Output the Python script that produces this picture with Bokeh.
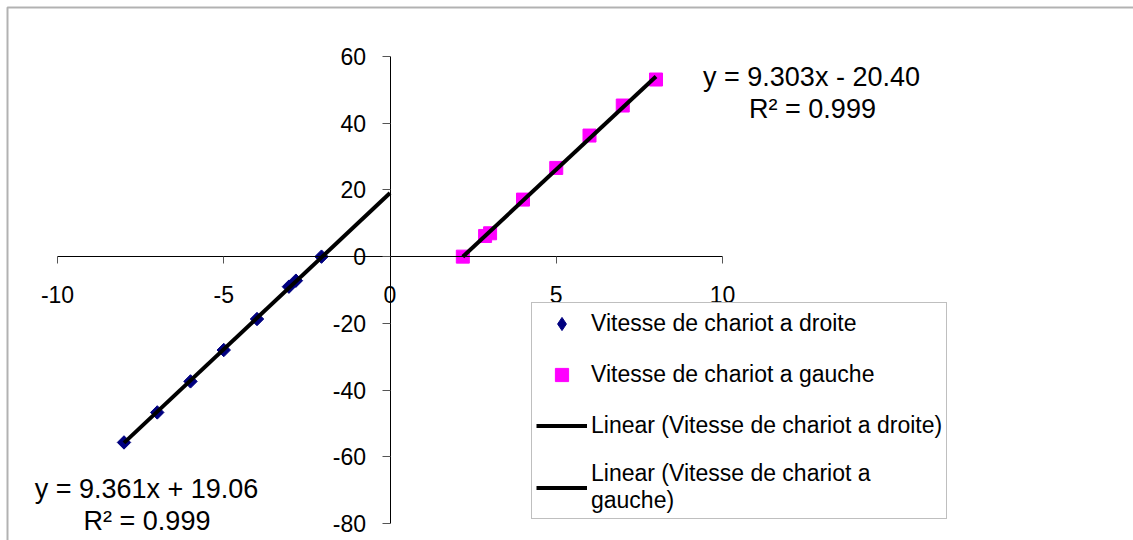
import math
from bokeh.plotting import figure
from bokeh.models import (LinearAxis, FixedTicker, Range1d, Label, Legend,
                          LegendItem, BoxAnnotation)
from bokeh.embed import file_html
from bokeh.resources import INLINE

# ---- data ----
droite_x = [-8.0, -7.0, -6.0, -5.0, -4.0, -3.04, -2.83, -2.06]
droite_y = [-55.7, -46.7, -37.4, -28.0, -18.7, -9.0, -7.2, 0.0]
gauche_x = [2.19, 2.86, 3.01, 4.0, 5.0, 6.0, 7.0, 8.0]
gauche_y = [0.0, 6.2, 7.0, 17.1, 26.6, 36.3, 45.3, 53.1]

# trendlines (slope, intercept) and x extent as shown
droite_fit = (9.361, 19.06)
droite_fit_x = [-8.0, 0.0]
gauche_fit = (9.303, -20.40)
gauche_fit_x = [2.19, 8.0]

x_ticks = [-10, -5, 0, 5, 10]
x_tick_labels = ["-10", "-5", "0", "5", "10"]
y_ticks = [-80, -60, -40, -20, 0, 20, 40, 60]
y_tick_labels = ["-80", "-60", "-40", "-20", "0", "20", "40", "60"]
x_bounds = (-10, 10)
y_bounds = (-80, 60)

series_names = ["Vitesse de chariot a droite", "Vitesse de chariot a gauche"]
trend_names = ["Linear (Vitesse de chariot a droite)",
               "Linear (Vitesse de chariot a\ngauche)"]
eq_droite = ["y = 9.361x + 19.06", "R\u00b2 = 0.999"]
eq_gauche = ["y = 9.303x - 20.40", "R\u00b2 = 0.999"]

# ---- layout ----
W, H = 1133, 540
SX = 33.25      # px per x unit
SY = 3.3357     # px per y unit
x_start = -10 - 57 / SX
x_end = x_start + W / SX
y_end = 60 + 56 / SY
y_start = y_end - H / SY


def dx(px):
    return x_start + px / SX


def dy(py):
    return y_end - py / SY


FONT = "Liberation Sans"

p = figure(width=W, height=H, output_backend="svg", toolbar_location=None,
           x_range=Range1d(x_start, x_end), y_range=Range1d(y_start, y_end),
           x_axis_type=None, y_axis_type=None, min_border=0,
           outline_line_color=None, background_fill_color="white",
           border_fill_color="white")

xaxis = LinearAxis(fixed_location=0, bounds=x_bounds, ticker=FixedTicker(ticks=x_ticks))
xaxis.major_label_overrides = dict(zip(x_ticks, x_tick_labels))
xaxis.axis_line_color = "black"
xaxis.axis_line_width = 1
xaxis.major_tick_in = 0
xaxis.major_tick_out = 7
xaxis.major_tick_line_color = "#555555"
xaxis.minor_tick_line_color = None
xaxis.major_label_standoff = 22
xaxis.major_label_text_font = FONT
xaxis.major_label_text_font_size = "23px"
xaxis.major_label_text_color = "black"
p.add_layout(xaxis, "below")

yaxis = LinearAxis(fixed_location=0, bounds=y_bounds, ticker=FixedTicker(ticks=y_ticks))
yaxis.major_label_overrides = dict(zip(y_ticks, y_tick_labels))
yaxis.axis_line_color = "black"
yaxis.axis_line_width = 1
yaxis.major_tick_in = 0
yaxis.major_tick_out = 8
yaxis.major_tick_line_color = "#555555"
yaxis.minor_tick_line_color = None
yaxis.major_label_standoff = 16
yaxis.major_label_text_font = FONT
yaxis.major_label_text_font_size = "23px"
yaxis.major_label_text_color = "black"
p.add_layout(yaxis, "left")

# points
r_d = p.scatter(droite_x, droite_y, marker="square", angle=math.pi / 4, size=9.5,
                fill_color="#000080", line_color="#000080")
r_g = p.scatter(gauche_x, gauche_y, marker="square", size=13,
                fill_color="#FF00FF", line_color="#FF00FF")

# trendlines
tdy = [droite_fit[0] * x + droite_fit[1] for x in droite_fit_x]
tgy = [gauche_fit[0] * x + gauche_fit[1] for x in gauche_fit_x]
r_td = p.line(droite_fit_x, tdy, line_color="black", line_width=4)
r_tg = p.line(gauche_fit_x, tgy, line_color="black", line_width=4)

# legend swatch for the diamond series (not drawn in the plot)
r_dl = p.scatter(droite_x, droite_y, marker="diamond", size=13,
                 fill_color="#000080", line_color="#000080", visible=False)

legend = Legend(items=[LegendItem(label=series_names[0], renderers=[r_dl]),
                       LegendItem(label=series_names[1], renderers=[r_g]),
                       LegendItem(label=trend_names[0], renderers=[r_td]),
                       LegendItem(label=trend_names[1], renderers=[r_tg])],
                location=(531, 21), glyph_width=51, glyph_height=33,
                label_standoff=4, spacing=18, padding=4, margin=0,
                label_text_font=FONT, label_text_font_size="23px",
                label_text_color="black", border_line_color="#808080",
                border_line_width=1, background_fill_color="white",
                background_fill_alpha=1)
p.add_layout(legend)

# trendline equations
for txt, px, py in [(eq_gauche[0], 811, 76.7), (eq_gauche[1], 812, 108.3),
                    (eq_droite[0], 146, 488.3), (eq_droite[1], 146.5, 520)]:
    p.add_layout(Label(x=dx(px), y=dy(py), text=txt, text_align="center",
                       text_baseline="alphabetic", text_font=FONT,
                       text_font_size="27px", text_color="black"))

# chart border (top/left visible, rest outside window)
p.add_layout(BoxAnnotation(left=dx(7), top=dy(7), right=1e4, bottom=-1e4,
                           fill_alpha=0, line_color="black", line_width=2))

open("out.html", "w").write(file_html(p, INLINE))
